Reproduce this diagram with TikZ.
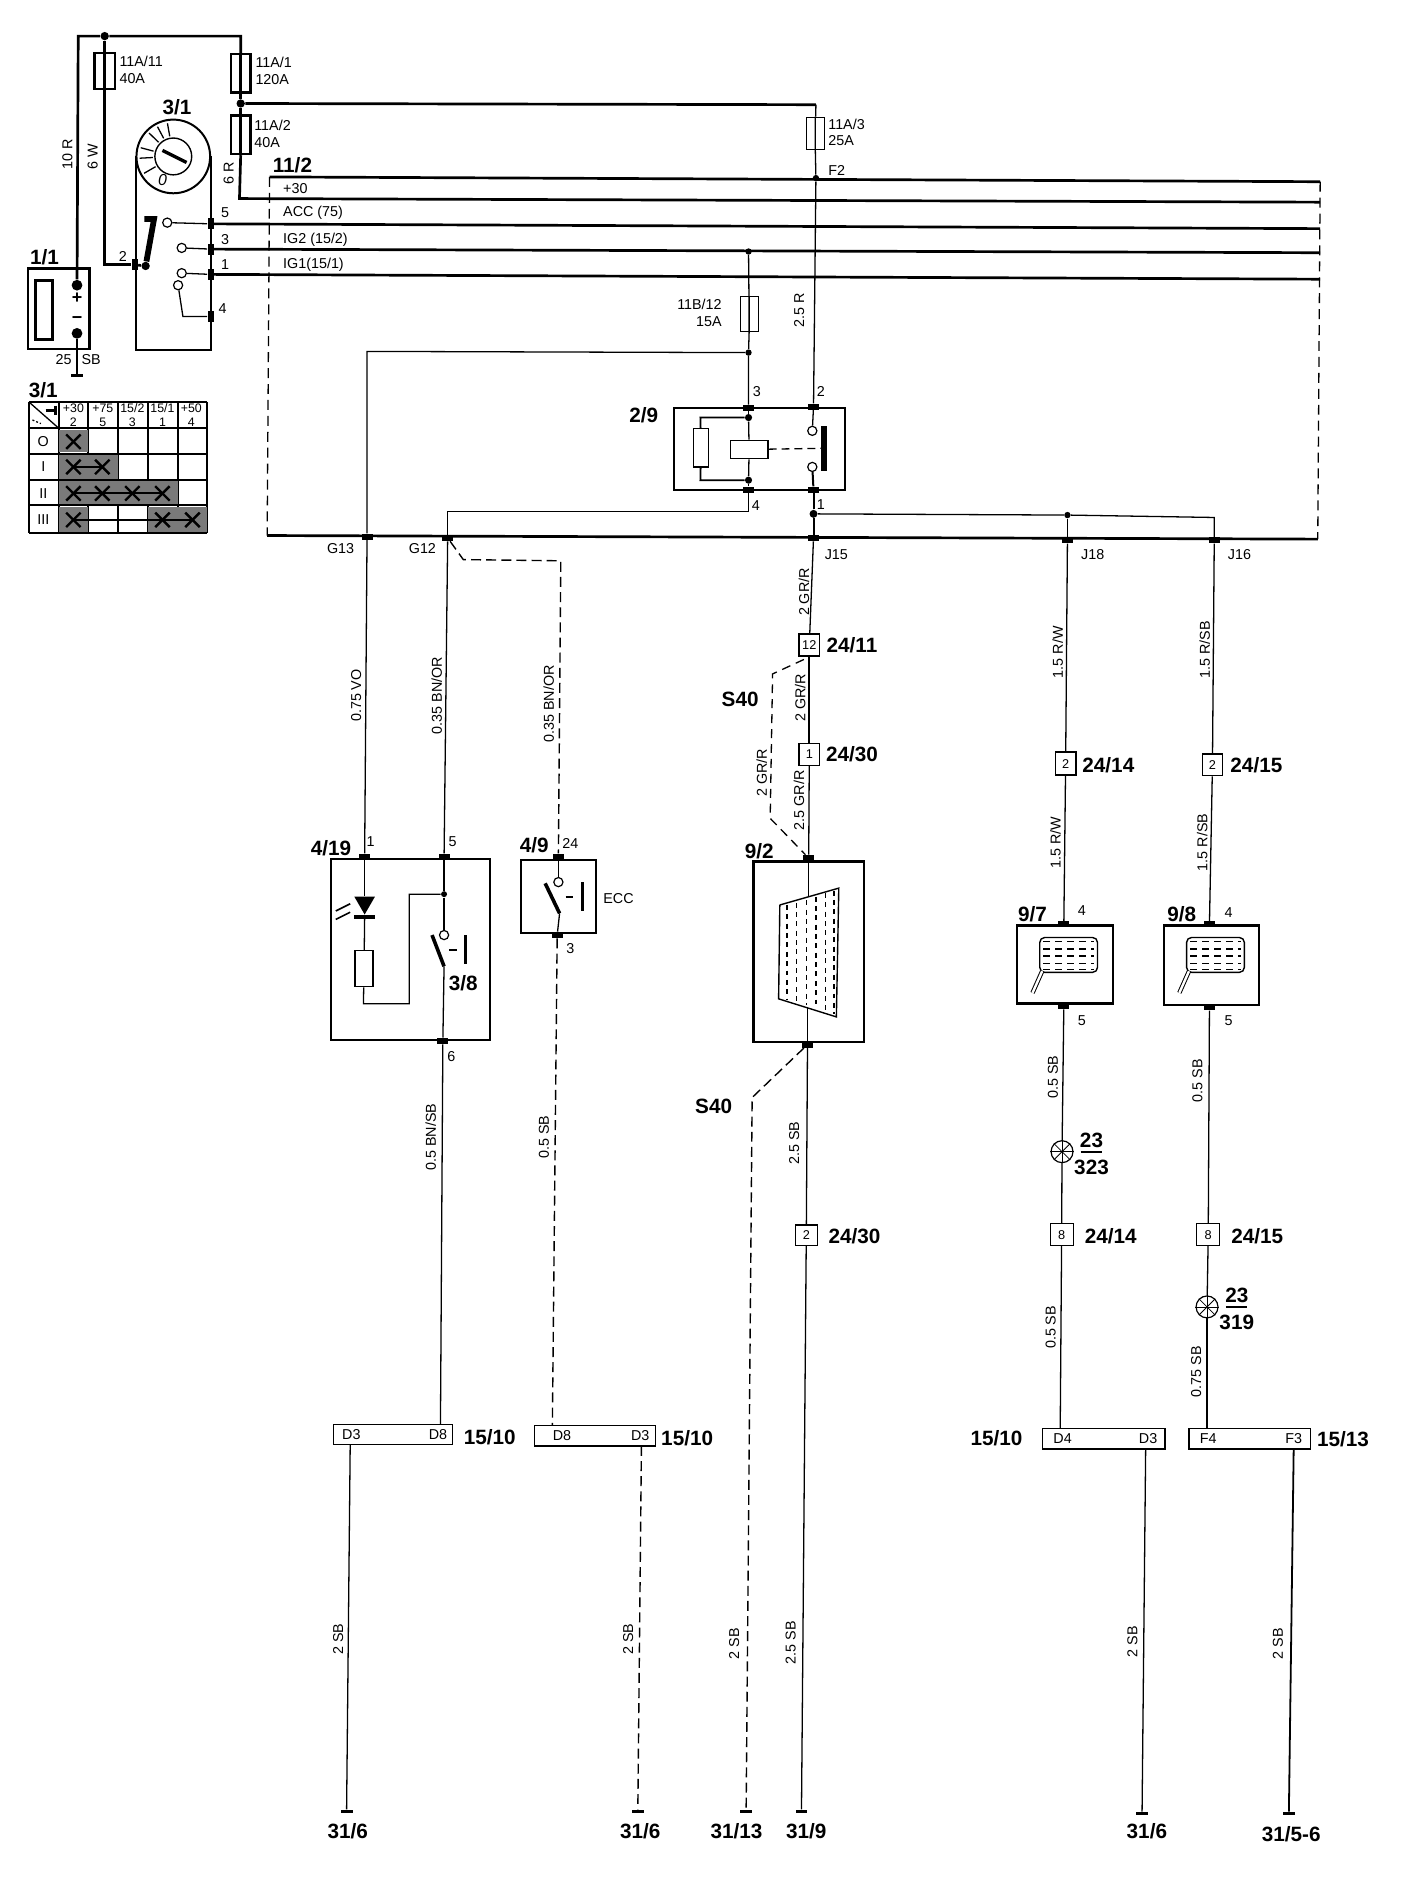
\documentclass[tikz,border=0pt]{standalone}
\usepackage{fontspec}
\setmainfont{Liberation Sans}
\usetikzlibrary{shapes.geometric}
\newcommand{\lampspokes}[1]{\draw[thinspoke] (#1.north) to (#1.south);
\draw[thinspoke] (#1.east) to (#1.west);
\draw[thinspoke] (#1.north east) to (#1.south west);
\draw[thinspoke] (#1.north west) to (#1.south east);}
\newcommand{\glassrows}[1]{\foreach \d in {-11,-5,1,7,12}
{\draw[wire,dash pattern=on 3.5pt off 2.5pt] (#1) ++(-21,\d) to ++(42,0);}}
\tikzset{
  wire/.style={line width=0.65pt},
  main/.style={line width=1.35pt},
  thinspoke/.style={line width=0.4pt},
  dwire/.style={line width=0.7pt,dash pattern=on 5pt off 2.6pt},
  sz/.style 2 args={minimum width=#1*0.6043pt,minimum height=#2*0.6043pt},
  box/.style={draw,line width=1.2pt,inner sep=0pt},
  thinbox/.style={draw,line width=0.6pt,inner sep=0pt,fill=white},
  pad/.style={fill=black,inner sep=0pt,minimum width=5.5pt,minimum height=3pt},
  sidepad/.style={fill=black,inner sep=0pt,minimum width=3pt,minimum height=5.5pt},
  gnd/.style={fill=black,inner sep=0pt,minimum width=6pt,minimum height=1.5pt},
  dot/.style={circle,fill=black,inner sep=0pt,minimum size=4.2pt},
  contact/.style={circle,draw,line width=0.6pt,fill=white,inner sep=0pt,minimum size=4.6pt},
  lamp/.style={circle,draw,line width=0.6pt,inner sep=0pt,minimum size=11pt},
  lab/.style={font=\fontsize{7.2}{8.5}\selectfont,inner sep=0pt},
  leftlab/.style={lab,anchor=west,align=left},
  wl/.style={lab,rotate=90},
  big/.style={font=\fontsize{10.4}{12}\bfseries\selectfont,inner sep=0pt},
  small/.style={font=\fontsize{6.2}{7}\selectfont,inner sep=0pt},
}
\begin{document}
\begin{tikzpicture}[x=0.6043pt,y=-0.6043pt]
\useasboundingbox (0,0) rectangle (1170,1567.2);

\coordinate (tl) at (65,30);
\coordinate (tr) at (200,30);
\node[dot] (jtop) at (87,30) {};
\node[box,sz={17}{30}] (f11) at (87,59) {};
\node[box,sz={16}{32}] (f1) at (200,61) {};
\node[dot] (jf) at (200,86) {};
\node[box,sz={16}{32}] (f2) at (200,112) {};
\node[thinbox,sz={15}{27}] (f3) at (677.5,111) {};
\node[thinbox,sz={15}{29}] (f12) at (622.5,261) {};
\coordinate (f3top) at (678,87);
\coordinate (r30a) at (199,165);
\coordinate (r30b) at (1097,168);
\coordinate (b11a) at (224,147);
\coordinate (b11b) at (1097,151);
\coordinate (busa) at (222,445);
\coordinate (busb) at (1095,448);
\coordinate (acc) at (1097,190);
\coordinate (ig2) at (1097,210);
\coordinate (ig1) at (1097,232);
\node[dot,minimum size=3.2pt] (jf2) at (678,148) {};
\node[dot,minimum size=3.2pt] (jig2) at (622,209) {};

\node[box,sz={51}{67}] (batt) at (49,256.5) {};
\node[draw,line width=1.5pt,inner sep=0pt,sz={14}{49}] (cell) at (36.5,257.5) {};
\node[dot,minimum size=5.4pt] (bplus) at (64,237) {};
\node[dot,minimum size=5.4pt] (bminus) at (64,277) {};
\node[font=\bfseries\fontsize{9}{9}\selectfont,inner sep=0pt] (plus) at (64,248) {+};
\node[font=\bfseries\fontsize{9}{9}\selectfont,inner sep=0pt] (minus) at (64,266) {\textminus};
\node[gnd] (gbatt) at (64,312) {};
\draw[main] (bplus) to (tl) to (jtop) to (tr) to (f1.north);
\draw[main] (f1.north) to (f1.south) to (jf) to (f2.north) to (f2.south);
\draw[main] (f2.south) to (r30a) to (r30b);
\draw[main] (jf) to (f3top);
\draw[main] (jtop) to (f11.north);
\draw[wire] (bminus) to (gbatt);
\draw[main] (b11a) to (b11b);
\draw[main] (busa) to (busb);
\draw[wire,dash pattern=on 5pt off 3pt] (b11a) to (busa);
\draw[wire,dash pattern=on 5pt off 3pt] (b11b) to (busb);

\node[circle,draw,line width=1pt,inner sep=0pt,minimum size=37pt] (dial) at (144,130) {};
\node[circle,draw,line width=0.7pt,fill=white,inner sep=0pt,minimum size=18.5pt] (knob) at (144,130) {};
\coordinate (keya) at (135,125);
\coordinate (keyb) at (155,135);
\draw[line width=1.7pt] (keya) to (keyb);
\foreach \a in {-100,-118,-136,-165,-183,-210}
{\draw[wire] (knob) ++(\a:17) to ++(\a:11);}
\node[lab,font=\itshape\fontsize{8}{8}\selectfont] (off) at (135,150) {0};
\coordinate (swl) at (113,130);
\coordinate (swr) at (175,130);
\coordinate (swbl) at (113,291);
\coordinate (swbr) at (175,291);
\draw[line width=1pt] (swl) to (swbl) to (swbr) to (swr);
\node[sidepad] (p2) at (112,220) {};
\node[sidepad] (p5) at (175,186) {};
\node[sidepad] (p3) at (175,207) {};
\node[sidepad] (p1) at (175,228) {};
\node[sidepad] (p4) at (175,263) {};
\node[dot] (arm) at (121,221) {};
\coordinate (armtop) at (128,182);
\coordinate (armhook) at (120,182);
\node[contact] (c5) at (139,185) {};
\node[contact] (c3) at (151,206) {};
\node[contact] (c1) at (151,227) {};
\node[contact] (c4) at (148,237) {};
\coordinate (c4b) at (152,263);
\coordinate (f11b) at (87,220);
\draw[main] (f11.north) to (f11.south) to (f11b) to (p2);
\draw[main] (p2) to (arm);
\draw[line width=2.9pt] (arm) to (armtop) to (armhook);
\draw[wire] (c5) to (p5);
\draw[wire] (c3) to (p3);
\draw[wire] (c1) to (p1);
\draw[wire] (c4) to (c4b) to (p4);
\draw[main] (p5) to (acc);
\draw[main] (p3) to (ig2);
\draw[main] (p1) to (ig1);

\node[big] (n11) at (37,214) {1/1};
\node[big] (n31) at (147,89) {3/1};
\node[big] (n112) at (243,137) {11/2};
\node[lab] (n2) at (102,213) {2};
\node[lab] (n5) at (187,177) {5};
\node[lab] (n3) at (187,199) {3};
\node[lab] (n1) at (187,220) {1};
\node[lab] (n4) at (185,256) {4};
\node[lab] (n25) at (65,299) {25\hspace{5pt}SB};
\node[wl] (w10r) at (56,128) {10 R};
\node[wl] (w6w) at (77,130) {6 W};
\node[wl] (w6r) at (190,144) {6 R};
\node[leftlab] (nf11) at (99,58) {11A/11\\40A};
\node[leftlab] (nf1) at (212,59) {11A/1\\120A};
\node[leftlab] (nf2) at (211,111) {11A/2\\40A};
\node[leftlab] (nf3) at (688,110) {11A/3\\25A};
\node[leftlab] (nf2a) at (688,142) {F2};
\node[leftlab] (n30) at (235,157) {+30};
\node[leftlab] (nacc) at (235,177) {ACC (75)};
\node[leftlab] (nig2) at (235,199) {IG2 (15/2)};
\node[leftlab] (nig1) at (235,220) {IG1(15/1)};
\node[lab,align=right,anchor=east] (nf12) at (600,260) {11B/12\\15A};
\node[wl] (w25r) at (664,258) {2.5 R};

\node[big] (n31t) at (36,324) {3/1};
\foreach \x in {24,49,73,98,123,148,172} {\draw[line width=0.8pt] (\x,334) to (\x,443);}
\foreach \y in {334,356,377,399,420,443} {\draw[line width=1pt] (24,\y) to (172,\y);}
\fill[black!52] (49,357) rectangle (73,376);
\fill[black!52] (49,378) rectangle (98,398);
\fill[black!52] (49,400) rectangle (148,419);
\fill[black!52] (49,421) rectangle (73,442);
\fill[black!52] (123,421) rectangle (172,442);
\draw[wire] (24,334) to (49,356);
\draw[line width=1.3pt] (38,341) to (46,341);
\draw[line width=1.3pt] (46,337) to (46,345);
\draw[wire,dash pattern=on 1pt off 1pt] (27,349) to (34,352);
\foreach \x/\y in {61/367,61/388,85/388,61/410,85/410,110/410,135/410,61/432,135/432,160/432}
{\draw[line width=1.2pt] (\x,\y) ++(-6,-6) to ++(12,12);
\draw[line width=1.2pt] (\x,\y) ++(-6,6) to ++(12,-12);}
\draw[wire] (61,388) to (85,388);
\draw[line width=1pt] (61,410) to (135,410);
\draw[line width=0.8pt] (61,432) to (160,432);
\node[small,align=center] (h1) at (61,345) {+30\\2};
\node[small,align=center] (h2) at (85.5,345) {+75\\5};
\node[small,align=center] (h3) at (110,345) {15/2\\3};
\node[small,align=center] (h4) at (135,345) {15/1\\1};
\node[small,align=center] (h5) at (159,345) {+50\\4};
\node[lab] (r0) at (36,367) {O};
\node[lab] (r1) at (36,388) {I};
\node[lab] (r2) at (36,410) {II};
\node[lab] (r3) at (36,432) {III};

\node[pad] (pg13) at (305,446) {};
\node[pad] (pg12) at (372,447) {};
\node[pad] (pj15) at (676,447) {};
\node[pad] (pj18) at (887,449) {};
\node[pad] (pj16) at (1009,449) {};
\node[lab] (ng13) at (283,456) {G13};
\node[lab] (ng12) at (351,456) {G12};
\node[lab] (nj15) at (695,461) {J15};
\node[lab] (nj18) at (908,461) {J18};
\node[lab] (nj16) at (1030,461) {J16};

\node[box,line width=0.9pt,sz={142}{68}] (rel) at (631,373) {};
\node[pad] (r3p) at (622,339) {};
\node[pad] (r2p) at (676,338) {};
\node[pad] (r4p) at (622,407) {};
\node[pad] (r1p) at (676,407) {};
\node[dot,minimum size=3.6pt] (rtop) at (622,347) {};
\node[dot,minimum size=3.6pt] (rbot) at (622,399) {};
\node[thinbox,line width=0.8pt,sz={31}{15}] (coil) at (622.5,373.5) {};
\node[thinbox,sz={13}{32}] (res) at (582.5,372) {};
\coordinate (rtl) at (582,347);
\coordinate (rbl) at (582,399);
\node[contact] (rc2) at (675,358) {};
\node[contact] (rc1) at (675,388) {};
\node[fill=black,inner sep=0pt,sz={5}{37}] (rbar) at (685,372.5) {};
\node[dot,minimum size=4pt] (j1r) at (676,427) {};
\node[dot,minimum size=3.2pt] (j18t) at (887,428) {};
\node[dot,minimum size=3.2pt] (j3t) at (622,293) {};
\coordinate (g12t) at (372,425);
\coordinate (r4b) at (622,425);
\coordinate (j16t) at (1009,430);
\coordinate (g13t) at (305,292);
\draw[wire] (rtop) to (coil);
\draw[wire] (rbot) to (coil);
\draw[main,line width=0.9pt] (r3p) to (rtop);
\draw[main,line width=0.9pt] (r4p) to (rbot);
\draw[line width=0.9pt] (rtop) to (rtl) to (res);
\draw[line width=0.9pt] (rbot) to (rbl) to (res);
\draw[wire,dash pattern=on 4pt off 2.5pt] (coil) to (rbar);
\draw[wire] (r2p) to (rc2);
\draw[line width=1pt] (rc1) to (r1p);
\draw[line width=1pt] (r1p) to (j1r) to (pj15);
\draw[wire] (f3top) to (f3);
\draw[wire] (f3.north) to (f3.south) to (jf2);
\draw[wire] (jf2) to (r2p);
\draw[wire] (jig2) to (f12);
\draw[wire] (f12.north) to (f12.south) to (j3t) to (r3p);
\draw[wire] (j3t) to (g13t) to (pg13);
\draw[wire] (r4p) to (r4b) to (g12t) to (pg12);
\draw[wire] (j1r) to (j18t) to (j16t) to (pj16);
\draw[wire] (j18t) to (pj18);
\node[big] (n29) at (535,345) {2/9};
\node[lab] (r3n) at (629,325) {3};
\node[lab] (r2n) at (682,325) {2};
\node[lab] (r4n) at (628,420) {4};
\node[lab] (r1n) at (682,419) {1};

\node[box,sz={132}{150}] (b419) at (341,789) {};
\node[pad] (b1p) at (303,712) {};
\node[pad] (b5p) at (369,712) {};
\node[pad] (b6p) at (368,865) {};
\node[big] (n419) at (275,705) {4/19};
\node[lab] (b1n) at (308,699) {1};
\node[lab] (b5n) at (376,699) {5};
\node[lab] (b6n) at (375,878) {6};
\node[big] (n38) at (385,817) {3/8};
\node[regular polygon,regular polygon sides=3,shape border rotate=180,fill=black,inner sep=0pt,minimum size=12pt] (dio) at (303,750) {};
\node[fill=black,inner sep=0pt,sz={18}{3}] (diob) at (303,762) {};
\node[thinbox,sz={15}{30}] (res2) at (302.5,805) {};
\coordinate (res2b) at (302,834);
\coordinate (res2r) at (340,834);
\coordinate (res2u) at (340,743);
\node[dot,minimum size=3pt] (b5j) at (369,743) {};
\node[contact] (b5c) at (369,777) {};
\coordinate (b5a) at (359,777);
\coordinate (b5e) at (369,803);
\coordinate (b5da) at (373,789);
\coordinate (b5db) at (380,789);
\coordinate (b5ba) at (387,777);
\coordinate (b5bb) at (387,801);
\coordinate (la1) at (291,751);
\coordinate (la2) at (279,757);
\coordinate (lb1) at (291,758);
\coordinate (lb2) at (279,764);
\draw[wire] (b1p) to (dio);
\draw[wire] (diob) to (res2);
\draw[wire] (res2) to (res2b) to (res2r) to (res2u) to (b5j);
\draw[line width=0.9pt] (b5p) to (b5j) to (b5c);
\draw[line width=1.8pt] (b5a) to (b5e);
\draw[wire] (b5e) to (b6p);
\draw[line width=1pt] (b5da) to (b5db);
\draw[line width=1.4pt] (b5ba) to (b5bb);
\draw[line width=0.8pt] (la1) to (la2);
\draw[line width=0.8pt] (lb1) to (lb2);
\draw[wire] (pg13) to (b1p);
\draw[wire] (pg12) to (b5p);
\node[wl] (wvo) at (296,578) {0.75 VO};
\node[wl] (wbn) at (363,578) {0.35 BN/OR};
\node[wl] (wbs) at (358,945) {0.5 BN/SB};

\node[box,sz={62}{61}] (b49) at (464,745) {};
\node[pad] (c24p) at (464,712) {};
\node[pad] (c3p) at (463,777) {};
\node[big] (n49) at (444,702) {4/9};
\node[lab] (c24n) at (474,701) {24};
\node[lab] (c3n) at (474,788) {3};
\node[lab] (necc) at (514,747) {ECC};
\node[contact] (cc) at (464,733) {};
\coordinate (ca) at (453,734);
\coordinate (ce) at (465,759);
\coordinate (cda) at (470,745);
\coordinate (cdb) at (476,745);
\coordinate (cba) at (484,733);
\coordinate (cbb) at (484,757);
\coordinate (g12m) at (385,465);
\coordinate (g12n) at (466,466);
\draw[wire] (c24p) to (cc);
\draw[line width=1.8pt] (ca) to (ce);
\draw[wire] (ce) to (c3p);
\draw[line width=1pt] (cda) to (cdb);
\draw[line width=1.6pt] (cba) to (cbb);
\draw[dwire] (pg12) to (g12m) to (g12n) to (c24p);
\node[wl] (wbn2) at (456,585) {0.35 BN/OR};
\node[wl] (wsb1) at (452,945) {0.5 SB};

\node[thinbox,sz={99}{17}] (d1) at (326.5,1192) {};
\node[lab] (d1a) at (292,1192) {D3};
\node[lab] (d1b) at (364,1192) {D8};
\node[big] (n1510a) at (407,1194) {15/10};
\node[thinbox,sz={101}{17}] (d2) at (494.5,1193) {};
\node[lab] (d2a) at (467,1193) {D8};
\node[lab] (d2b) at (532,1193) {D3};
\node[big] (n1510b) at (571,1195) {15/10};
\node[thinbox,sz={102}{17}] (d3) at (917,1195.5) {};
\node[lab] (d3a) at (883,1195) {D4};
\node[lab] (d3b) at (954,1195) {D3};
\node[big] (n1510c) at (828,1195) {15/10};
\node[thinbox,sz={101}{17}] (d4) at (1038.5,1195.5) {};
\node[lab] (d4a) at (1004,1195) {F4};
\node[lab] (d4b) at (1075,1195) {F3};
\node[big] (n1513) at (1116,1196) {15/13};
\coordinate (d1t) at (366,1183.5);
\coordinate (d1d) at (291,1200.5);
\coordinate (d2t) at (459,1184.5);
\coordinate (d2d) at (533,1201.5);
\coordinate (d3t) at (881,1187);
\coordinate (d3d) at (952,1204);
\coordinate (d4t) at (1003,1187);
\coordinate (d4d) at (1075,1204);
\node[gnd] (g1) at (288,1505) {};
\node[gnd] (g2) at (530,1505) {};
\node[gnd] (g3) at (620,1505) {};
\node[gnd] (g4) at (666,1505) {};
\node[gnd] (g5) at (949,1507) {};
\node[gnd] (g6) at (1071,1507) {};
\node[big] (e1) at (289,1522) {31/6};
\node[big] (e2) at (532,1522) {31/6};
\node[big] (e3) at (612,1522) {31/13};
\node[big] (e4) at (670,1522) {31/9};
\node[big] (e5) at (953,1522) {31/6};
\node[big] (e6) at (1073,1524) {31/5-6};
\draw[wire] (b6p) to (d1t);
\draw[wire] (d1d) to (g1);
\draw[dwire] (c3p) to (d2t);
\draw[dwire] (d2d) to (g2);
\draw[wire] (d3d) to (g5);
\draw[line width=0.9pt] (d4d) to (g6);
\node[wl] (s1) at (281,1362) {2 SB};
\node[wl] (s2) at (522,1362) {2 SB};
\node[wl] (s3) at (610,1366) {2 SB};
\node[wl] (s4) at (657,1365) {2.5 SB};
\node[wl] (s5) at (941,1364) {2 SB};
\node[wl] (s6) at (1062,1366) {2 SB};

\node[thinbox,line width=0.8pt,sz={17}{18}] (k12) at (672.5,536) {\fontsize{6.4}{7}\selectfont 12};
\node[thinbox,sz={17}{18}] (k1) at (672.5,627) {\fontsize{6.4}{7}\selectfont 1};
\node[big] (n2411) at (708,536) {24/11};
\node[big] (n2430a) at (708,627) {24/30};
\node[wl] (w1) at (668,492) {2 GR/R};
\node[wl] (w2) at (665,580) {2 GR/R};
\node[wl] (w3) at (664,665) {2.5 GR/R};
\node[wl] (w4) at (633,642) {2 GR/R};
\node[big] (s40a) at (615,581) {S40};
\node[big] (s40b) at (593,919) {S40};
\node[box,sz={92}{150}] (b92) at (672,791) {};
\node[big] (n92) at (631,707) {9/2};
\node[pad] (b92t) at (672,713) {};
\node[pad] (b92b) at (671,868) {};
\coordinate (rwa) at (648,752);
\coordinate (rwb) at (697,738);
\coordinate (rwc) at (695,845);
\coordinate (rwd) at (647,830);
\coordinate (rwt) at (672,745);
\coordinate (rwu) at (671,838);
\draw[line width=0.7pt] (rwa) to (rwb) to (rwc) to (rwd) to (rwa);
\foreach \x/\t/\b in {654/752/830,662/750/833,670/748/835,678/745/838,686/742/840,693/740/843}
{\draw[line width=0.6pt,dash pattern=on 2.5pt off 2.2pt] (\x,\t) to (\x,\b);}
\draw[wire] (pj15) to (k12);
\draw[main,line width=0.9pt] (k12) to (k1);
\draw[wire] (k1) to (b92t);
\draw[wire] (b92t) to (rwt);
\draw[line width=0.9pt] (rwu) to (b92b);
\coordinate (s1a) at (668,548);
\coordinate (s1b) at (642,560);
\coordinate (s1c) at (640,680);
\coordinate (s2b) at (625,912);
\draw[wire,dash pattern=on 4.5pt off 3pt] (s1a) to (s1b) to (s1c) to (b92t);
\draw[dwire] (b92b) to (s2b) to (g3);
\node[thinbox,sz={18}{17}] (k2) at (670,1026.5) {\fontsize{6.4}{7}\selectfont 2};
\node[big] (n2430b) at (710,1027) {24/30};
\node[wl] (w5) at (660,950) {2.5 SB};
\draw[wire] (b92b) to (k2);
\draw[wire] (k2) to (g4);

\node[thinbox,line width=0.7pt,sz={17}{19}] (m2a) at (885.5,634.5) {\fontsize{6.4}{7}\selectfont 2};
\node[big] (n2414a) at (921,636) {24/14};
\node[wl] (m1) at (879,542) {1.5 R/W};
\node[wl] (m2) at (877,700) {1.5 R/W};
\node[box,sz={80}{65}] (b97) at (885,801.5) {};
\node[big] (n97) at (858,760) {9/7};
\node[lab] (b97a) at (899,757) {4};
\node[lab] (b97b) at (899,848) {5};
\node[pad] (b97t) at (884,768) {};
\node[pad] (b97d) at (884,836) {};
\node[draw,line width=0.7pt,rounded corners=2.5pt,inner sep=0pt,sz={48}{29}] (gl97) at (888,793.5) {};
\coordinate (hd97a) at (866,807);
\coordinate (hd97b) at (858,825);
\draw[line width=0.5pt,double distance=1.2pt] (hd97a) to (hd97b);
\glassrows{gl97}
\node[lamp] (l323) at (882.5,957) {};
\lampspokes{l323}
\node[big] (t23a) at (907,947.5) {23};
\node[big] (t323) at (907,970) {323};
\coordinate (bar3a) at (898,957);
\coordinate (bar3b) at (916,957);
\draw[line width=0.9pt] (bar3a) to (bar3b);
\node[thinbox,sz={19}{18}] (m8a) at (882.2,1026) {\fontsize{6.4}{7}\selectfont 8};
\node[big] (n2414b) at (923,1027) {24/14};
\node[wl] (m3) at (875,895) {0.5 SB};
\node[wl] (m4) at (873,1103) {0.5 SB};
\draw[wire] (pj18) to (m2a);
\draw[wire] (m2a) to (b97t);
\draw[wire] (b97d) to (l323);
\draw[wire] (l323) to (m8a);
\draw[wire] (m8a) to (d3t);

\node[thinbox,line width=0.7pt,sz={17}{18}] (m2b) at (1007.5,635.5) {\fontsize{6.4}{7}\selectfont 2};
\node[big] (n2415a) at (1044,636) {24/15};
\node[wl] (m5) at (1001,540) {1.5 R/SB};
\node[wl] (m6) at (999,700) {1.5 R/SB};
\node[box,sz={79}{66}] (b98) at (1006.5,802) {};
\node[big] (n98) at (982,760) {9/8};
\node[lab] (b98a) at (1021,758) {4};
\node[lab] (b98b) at (1021,848) {5};
\node[pad] (b98t) at (1005,768) {};
\node[pad] (b98d) at (1005,837) {};
\node[draw,line width=0.7pt,rounded corners=2.5pt,inner sep=0pt,sz={48}{29}] (gl98) at (1010,793.5) {};
\coordinate (hd98a) at (988,807);
\coordinate (hd98b) at (980,825);
\draw[line width=0.5pt,double distance=1.2pt] (hd98a) to (hd98b);
\glassrows{gl98}
\node[lamp] (l319) at (1003,1086) {};
\lampspokes{l319}
\node[big] (t23b) at (1027.7,1076.7) {23};
\node[big] (t319) at (1027.7,1099) {319};
\coordinate (bar9a) at (1018.6,1086);
\coordinate (bar9b) at (1036.4,1086);
\draw[line width=0.9pt] (bar9a) to (bar9b);
\node[thinbox,sz={19}{18}] (m8b) at (1004,1026) {\fontsize{6.4}{7}\selectfont 8};
\node[big] (n2415b) at (1044.7,1027) {24/15};
\node[wl] (m7) at (995,898) {0.5 SB};
\node[wl] (m8) at (994,1140) {0.75 SB};
\draw[wire] (pj16) to (m2b);
\draw[wire] (m2b) to (b98t);
\draw[wire] (b98d) to (m8b);
\draw[wire] (m8b) to (l319);
\draw[wire] (l319) to (d4t);
\end{tikzpicture}
\end{document}
